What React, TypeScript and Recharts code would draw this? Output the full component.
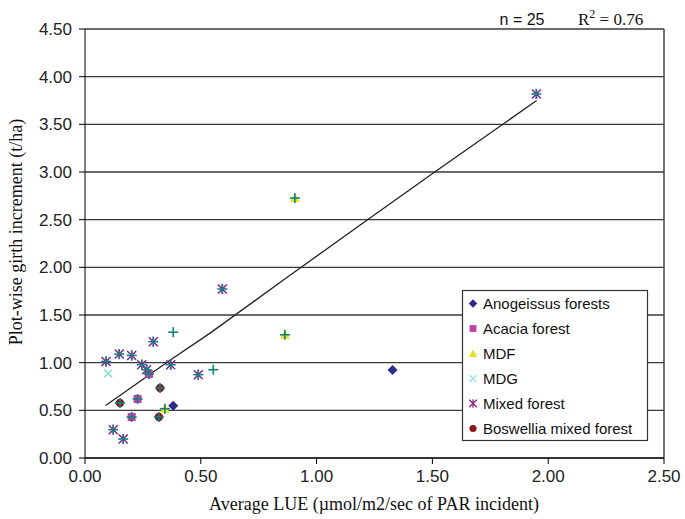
import React from 'react';
import { ScatterChart, Scatter, XAxis, YAxis, CartesianGrid, ReferenceLine } from 'recharts';

// ---- data ----
const anogeissus = [
  { x: 0.381, y: 0.549 },
  { x: 1.328, y: 0.923 },
];
const acacia = [
  { x: 0.276, y: 0.881 },
  { x: 0.227, y: 0.619 },
  { x: 0.2015, y: 0.43 },
];
const mdf = [
  { x: 0.345, y: 0.517 },
  { x: 0.863, y: 1.293 },
  { x: 0.906, y: 2.727 },
];
const mdg = [{ x: 0.1, y: 0.887 }];
const mixed = [
  { x: 0.295, y: 1.22 },
  { x: 0.148, y: 1.09 },
  { x: 0.2015, y: 1.076 },
  { x: 0.091, y: 1.013 },
  { x: 0.245, y: 0.979 },
  { x: 0.266, y: 0.926 },
  { x: 0.37, y: 0.979 },
  { x: 0.489, y: 0.874 },
  { x: 0.122, y: 0.297 },
  { x: 0.165, y: 0.199 },
  { x: 0.593, y: 1.773 },
  { x: 1.949, y: 3.818 },
];
const boswellia = [
  { x: 0.324, y: 0.734 },
  { x: 0.151, y: 0.577 },
  { x: 0.319, y: 0.43 },
];
// all-plots series (teal plus markers, not in legend)
const allPlots = [
  { x: 0.381, y: 1.32 },
  { x: 0.554, y: 0.926 },
  { x: 0.295, y: 1.22 },
  { x: 0.148, y: 1.09 },
  { x: 0.2015, y: 1.076 },
  { x: 0.091, y: 1.013 },
  { x: 0.245, y: 0.979 },
  { x: 0.266, y: 0.926 },
  { x: 0.276, y: 0.881 },
  { x: 0.37, y: 0.979 },
  { x: 0.489, y: 0.874 },
  { x: 0.324, y: 0.734 },
  { x: 0.151, y: 0.577 },
  { x: 0.227, y: 0.619 },
  { x: 0.345, y: 0.517 },
  { x: 0.2015, y: 0.43 },
  { x: 0.319, y: 0.43 },
  { x: 0.122, y: 0.297 },
  { x: 0.165, y: 0.199 },
  { x: 0.863, y: 1.293 },
  { x: 0.906, y: 2.727 },
  { x: 0.593, y: 1.773 },
  { x: 1.949, y: 3.818 },
];
const trend = [
  { x: 0.089, y: 0.55 },
  { x: 0.2, y: 0.74 },
  { x: 0.37, y: 1.03 },
  { x: 0.54, y: 1.31 },
  { x: 0.87, y: 1.89 },
  { x: 1.22, y: 2.5 },
  { x: 1.51, y: 3.0 },
  { x: 1.95, y: 3.75 },
];
const xTicks = [0, 0.5, 1, 1.5, 2, 2.5];
const yTicks = [0, 0.5, 1, 1.5, 2, 2.5, 3, 3.5, 4, 4.5];
const legendLabels = [
  'Anogeissus forests',
  'Acacia forest',
  'MDF',
  'MDG',
  'Mixed forest',
  'Boswellia mixed forest',
];

// ---- marker shapes ----
const C = {
  navy: '#2E2A8A',
  magenta: '#C23FA8',
  yellow: '#E9E02A',
  cyan: '#8FE3DE',
  purple: '#8A1F8A',
  darkred: '#8A1A1A',
  teal: '#12807F',
};

const Diamond = ({ cx, cy }: any) => (
  <polygon points={`${cx},${cy - 5} ${cx + 5},${cy} ${cx},${cy + 5} ${cx - 5},${cy}`} fill={C.navy} />
);
const Square = ({ cx, cy }: any) => <rect x={cx - 4} y={cy - 4} width={8} height={8} fill={C.magenta} />;
const Triangle = ({ cx, cy }: any) => (
  <polygon points={`${cx},${cy - 5} ${cx + 5},${cy + 4} ${cx - 5},${cy + 4}`} fill={C.yellow} />
);
const Cross = ({ cx, cy }: any) => (
  <g stroke={C.cyan} strokeWidth={1.6}>
    <line x1={cx - 4} y1={cy - 4} x2={cx + 4} y2={cy + 4} />
    <line x1={cx - 4} y1={cy + 4} x2={cx + 4} y2={cy - 4} />
  </g>
);
const Star = ({ cx, cy }: any) => (
  <g stroke={C.purple} strokeWidth={1.5}>
    <line x1={cx - 4.5} y1={cy - 4.5} x2={cx + 4.5} y2={cy + 4.5} />
    <line x1={cx - 4.5} y1={cy + 4.5} x2={cx + 4.5} y2={cy - 4.5} />
    <line x1={cx} y1={cy - 5} x2={cx} y2={cy + 5} />
  </g>
);
const Dot = ({ cx, cy }: any) => <circle cx={cx} cy={cy} r={4.2} fill={C.darkred} />;
const Plus = ({ cx, cy }: any) => (
  <g stroke={C.teal} strokeWidth={1.6}>
    <line x1={cx - 5} y1={cy} x2={cx + 5} y2={cy} />
    <line x1={cx} y1={cy - 5} x2={cx} y2={cy + 5} />
  </g>
);
const Nothing = () => <g />;

const legendShapes = [Diamond, Square, Triangle, Cross, Star, Dot];

const sans = "'Liberation Sans', Arial, sans-serif";
const serif = "'Liberation Serif', 'Times New Roman', serif";

export default function App() {
  return (
    <div style={{ position: 'absolute', left: 0, top: 0, width: 685, height: 519, background: '#fff' }}>
      <ScatterChart width={685} height={519} margin={{ top: 29, right: 21, bottom: 0, left: 0 }}>
        <CartesianGrid vertical={false} stroke="#3a3a3a" strokeWidth={1.4} horizontalValues={yTicks} />
        <XAxis
          type="number"
          dataKey="x"
          domain={[0, 2.5]}
          ticks={xTicks}
          tickFormatter={(v: number) => v.toFixed(2)}
          height={61}
          tickSize={6}
          tickMargin={6}
          stroke="#000"
          tick={{ fill: '#222', fontSize: 17, fontFamily: sans }}
          allowDataOverflow
        />
        <YAxis
          type="number"
          dataKey="y"
          domain={[0, 4.5]}
          ticks={yTicks}
          tickFormatter={(v: number) => v.toFixed(2)}
          width={85}
          tickSize={6}
          tickMargin={7}
          stroke="#000"
          tick={{ fill: '#222', fontSize: 17, fontFamily: sans }}
          allowDataOverflow
        />
        <ReferenceLine x={2.5} stroke="#444" strokeWidth={1.5} />
        <Scatter data={trend} line={{ stroke: '#222', strokeWidth: 1.3 }} shape={Nothing} isAnimationActive={false} legendType="none" />
        <Scatter name="Anogeissus forests" data={anogeissus} shape={Diamond} isAnimationActive={false} />
        <Scatter name="Acacia forest" data={acacia} shape={Square} isAnimationActive={false} />
        <Scatter name="MDF" data={mdf} shape={Triangle} isAnimationActive={false} />
        <Scatter name="MDG" data={mdg} shape={Cross} isAnimationActive={false} />
        <Scatter name="Mixed forest" data={mixed} shape={Star} isAnimationActive={false} />
        <Scatter name="Boswellia mixed forest" data={boswellia} shape={Dot} isAnimationActive={false} />
        <Scatter name="All plots" data={allPlots} shape={Plus} isAnimationActive={false} legendType="none" />
      </ScatterChart>
      <svg
        width={685}
        height={519}
        style={{ position: 'absolute', left: 0, top: 0, pointerEvents: 'none' }}
      >
        <text x={522} y={25} textAnchor="middle" fontFamily={sans} fontSize={16} fill="#111">
          n = 25
        </text>
        <text x={578} y={25} fontFamily={serif} fontSize={17} fill="#111">
          R<tspan dy={-7} fontSize={12}>2</tspan>
          <tspan dy={7}> = 0.76</tspan>
        </text>
        <text
          x={0}
          y={0}
          transform="translate(22,232) rotate(-90)"
          textAnchor="middle"
          fontFamily={serif}
          fontSize={18}
          fill="#111"
        >
          Plot-wise girth increment (t/ha)
        </text>
        <text x={374} y={510} textAnchor="middle" fontFamily={serif} fontSize={18} fill="#111">
          Average LUE (µmol/m2/sec of PAR incident)
        </text>
        <g>
          <rect x={462.5} y={290.5} width={185} height={150} fill="#fff" stroke="#333" strokeWidth={1.2} />
          {legendLabels.map((lab, i) => {
            const Shape = legendShapes[i];
            const cy = 303.5 + i * 25;
            return (
              <g key={lab}>
                <g transform={`translate(473,${cy}) scale(0.85) translate(-473,${-cy})`}>
                  <Shape cx={473} cy={cy} />
                </g>
                <text x={483} y={cy + 5.5} fontFamily={sans} fontSize={15} fill="#111">
                  {lab}
                </text>
              </g>
            );
          })}
        </g>
      </svg>
    </div>
  );
}
